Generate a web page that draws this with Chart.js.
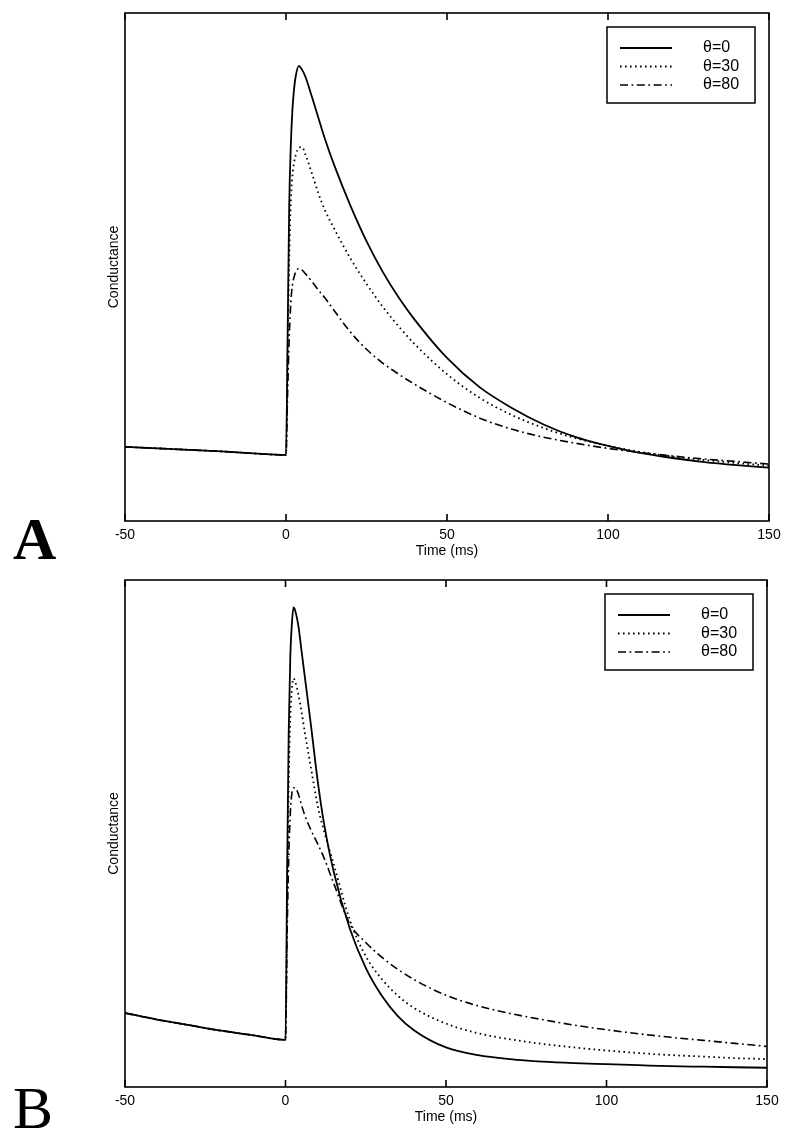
<!DOCTYPE html>
<html>
<head>
<meta charset="utf-8">
<script src="https://cdn.jsdelivr.net/npm/chart.js@4.4.1/dist/chart.umd.min.js"></script>
<style>
  body { margin: 0; background: #fff; }
  #page { position: relative; width: 798px; height: 1140px; overflow: hidden; }
  .panel { position: absolute; left: 0; }
  .tag { position: absolute; left: 13px; font-family: 'Liberation Serif', 'DejaVu Serif', serif; font-size: 60px; line-height: 60px; color: #000; }
</style>
</head>
<body>
<div id="page">
  <canvas id="chartA" class="panel" width="798" height="570" style="top:0"></canvas>
  <canvas id="chartB" class="panel" width="798" height="573" style="top:567px"></canvas>
  <div class="tag" style="top:509px;font-weight:bold">A</div>
  <div class="tag" style="top:1078px">B</div>
</div>
<script>
// time axis (ms), shared by every curve
const time = [-50, -40, -30, -20, -10, 0, 0.5, 1, 1.5, 2, 2.5, 3, 4, 5, 6, 8,
  10, 12, 15, 20, 25, 30, 35, 40, 50, 60, 70, 80, 90, 100, 110, 120, 130, 140, 150];
const xTicks = [-50, 0, 50, 100, 150];
const labels = ['θ=0', 'θ=30', 'θ=80'];

// panel A, conductance (arbitrary units)
const a0 = [.146, .143, .140, .137, .133, .130, .36, .62, .74, .81, .85, .875, .896, .888, .875, .836,
  .795, .754, .700, .621, .551, .491, .440, .396, .321, .264, .223, .190, .165, .148, .134, .124, .116, .110, .105];
const a30 = [.146, .143, .140, .137, .133, .130, .33, .52, .63, .68, .705, .72, .735, .736, .722, .685,
  .646, .613, .575, .517, .467, .422, .383, .348, .289, .243, .209, .183, .163, .148, .136, .127, .120, .114, .109];
const a80 = [.146, .143, .140, .137, .133, .130, .25, .36, .43, .465, .48, .49, .497, .494, .487, .472,
  .455, .440, .414, .372, .338, .311, .289, .269, .233, .203, .181, .165, .153, .143, .135, .128, .122, .117, .112];

// panel B
const b0 = [.146, .133, .122, .111, .102, .093, .42, .70, .85, .915, .946, .94, .91, .86, .81, .71,
  .605, .52, .425, .313, .235, .18, .14, .112, .078, .063, .055, .050, .047, .045, .043, .041, .040, .039, .038];
const b30 = [.146, .133, .122, .111, .102, .093, .35, .60, .73, .785, .806, .80, .775, .74, .70, .627,
  .555, .505, .44, .33, .258, .213, .180, .156, .125, .106, .094, .085, .078, .072, .067, .063, .060, .057, .055];
const b80 = [.146, .133, .122, .111, .102, .093, .30, .45, .54, .58, .59, .59, .578, .556, .536, .506,
  .480, .452, .402, .322, .285, .256, .232, .212, .181, .160, .145, .133, .122, .113, .105, .098, .092, .086, .080];

const FONT = "'Liberation Sans', Arial, Helvetica, sans-serif";
Chart.defaults.font.family = FONT;
Chart.defaults.color = '#000';

const lineStyles = [
  { borderDash: [], borderWidth: 1.8 },
  { borderDash: [1.6, 3.4], borderWidth: 1.8 },
  { borderDash: [8, 3.5, 1.8, 3.5], borderWidth: 1.6 },
];

// box around the plot + inward ticks on bottom and top (matlab style)
const frame = {
  id: 'frame',
  afterDatasetsDraw(chart) {
    const { ctx, chartArea: a, scales: { x } } = chart;
    ctx.save();
    ctx.strokeStyle = '#000';
    ctx.lineWidth = 1.6;
    ctx.strokeRect(a.left, a.top, a.right - a.left, a.bottom - a.top);
    x.ticks.forEach((t) => {
      const px = x.getPixelForValue(t.value);
      ctx.beginPath();
      ctx.moveTo(px, a.bottom);
      ctx.lineTo(px, a.bottom - 7);
      ctx.moveTo(px, a.top);
      ctx.lineTo(px, a.top + 7);
      ctx.stroke();
    });
    ctx.restore();
  },
};

const boxLegend = {
  id: 'boxLegend',
  afterDraw(chart) {
    const { ctx, chartArea: a } = chart;
    const w = 148, h = 76;
    const left = a.right - 14 - w, top = a.top + 14;
    ctx.save();
    ctx.fillStyle = '#fff';
    ctx.fillRect(left, top, w, h);
    ctx.strokeStyle = '#000';
    ctx.lineWidth = 1.5;
    ctx.strokeRect(left, top, w, h);
    ctx.font = '16px ' + FONT;
    ctx.fillStyle = '#000';
    ctx.textBaseline = 'middle';
    chart.data.datasets.forEach((ds, i) => {
      const y = top + 21 + i * 18.5;
      ctx.setLineDash(ds.borderDash);
      ctx.lineWidth = ds.borderWidth;
      ctx.beginPath();
      ctx.moveTo(left + 13, y);
      ctx.lineTo(left + 65, y);
      ctx.stroke();
      ctx.setLineDash([]);
      ctx.fillText(ds.label, left + 96, y);
    });
    ctx.restore();
  },
};

function makeChart(id, series, pad, axisH, titlePad) {
  const ctx = document.getElementById(id).getContext('2d');
  return new Chart(ctx, {
    type: 'line',
    data: {
      datasets: series.map((s, i) => ({
        label: labels[i],
        data: time.map((t, k) => ({ x: t, y: s[k] })),
        borderColor: '#000',
        borderDash: lineStyles[i].borderDash,
        borderWidth: lineStyles[i].borderWidth,
        pointRadius: 0,
        fill: false,
        cubicInterpolationMode: 'monotone',
      })),
    },
    options: {
      responsive: false,
      animation: false,
      devicePixelRatio: 1,
      layout: { padding: pad },
      plugins: { legend: { display: false }, tooltip: { enabled: false } },
      scales: {
        x: {
          type: 'linear',
          min: -50,
          max: 150,
          afterBuildTicks: (s) => { s.ticks = xTicks.map((v) => ({ value: v })); },
          ticks: { font: { size: 14 }, padding: 6, color: '#000' },
          grid: { display: false, drawTicks: false },
          border: { display: false },
          title: { display: true, text: 'Time (ms)', font: { size: 14 }, padding: { top: 0, bottom: titlePad } },
          afterFit: (s) => { s.height = axisH; },
        },
        y: {
          min: 0,
          max: 1,
          ticks: { display: false },
          grid: { display: false, drawTicks: false },
          border: { display: false },
          title: { display: true, text: 'Conductance', font: { size: 14 }, padding: { top: 106, bottom: 0 } },
          afterFit: (s) => { s.width = 125; },
        },
      },
    },
    plugins: [frame, boxLegend],
  });
}

makeChart('chartA', [a0, a30, a80], { top: 13, right: 29, left: 0, bottom: 0 }, 49, 10);
makeChart('chartB', [b0, b30, b80], { top: 13, right: 31, left: 0, bottom: 0 }, 53, 14);
</script>
</body>
</html>
